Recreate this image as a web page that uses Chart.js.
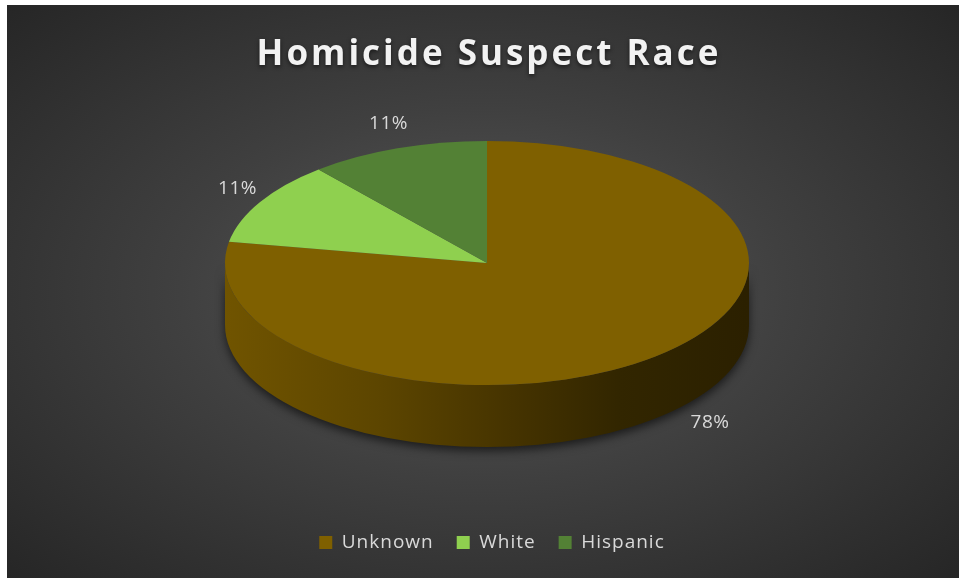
<!DOCTYPE html>
<html>
<head>
<meta charset="utf-8">
<script src="https://cdn.jsdelivr.net/npm/chart.js@4.4.0/dist/chart.umd.min.js"></script>
<style>
    html, body { margin: 0; padding: 0; background: #ffffff; }
    #wrap {
        position: absolute;
        left: 7px;
        top: 5px;
        width: 952px;
        height: 573px;
        background: radial-gradient(ellipse at 50% 50%, #5a5a5a 0%, #404040 45%, #262626 100%);
    }
</style>
</head>
<body>
<div id="wrap"><canvas id="myChart" width="952" height="573"></canvas></div>
<script>
const chartTitle = 'Homicide Suspect Race';
const categories = ['Unknown', 'White', 'Hispanic'];
const suspectCounts = [7, 1, 1];
const sliceColors = ['#7f6000', '#8fd04f', '#538135'];

// look of the tilted pie
const pieCenter = { x: 480, y: 258 };
const pieRadius = 262;
const tilt = 0.466;
const depth = 62;

function sideGradient(ctx, left, right) {
    const g = ctx.createLinearGradient(left, 0, right, 0);
    g.addColorStop(0, '#705400');
    g.addColorStop(0.3, '#5c4500');
    g.addColorStop(0.55, '#453300');
    g.addColorStop(0.75, '#322600');
    g.addColorStop(1, '#2b2000');
    return g;
}

const tiltedPie = {
    id: 'tiltedPie',
    beforeUpdate(chart) {
        // excel text runs a bit wider than Open Sans
        chart.ctx.letterSpacing = '1px';
    },
    beforeDatasetsDraw(chart) {
        const ctx = chart.ctx;
        const arcs = chart.getDatasetMeta(0).data;
        const cx = pieCenter.x, cy = pieCenter.y, R = arcs[0].outerRadius;

        // side wall, only the front half shows
        ctx.save();
        ctx.shadowColor = 'rgba(0,0,0,0.6)';
        ctx.shadowBlur = 10;
        ctx.shadowOffsetY = 4;
        arcs.forEach((arc) => {
            [0, 2 * Math.PI].forEach((shift) => {
                const s = Math.max(arc.startAngle, shift);
                const e = Math.min(arc.endAngle, shift + Math.PI);
                if (e <= s) return;
                ctx.beginPath();
                ctx.ellipse(cx, cy, R, R * tilt, 0, s, e);
                ctx.ellipse(cx, cy + depth, R, R * tilt, 0, e, s, true);
                ctx.closePath();
                ctx.fillStyle = sideGradient(ctx, cx - R, cx + R);
                ctx.fill();
            });
        });
        ctx.restore();

        // squash the top face
        ctx.save();
        ctx.translate(cx, cy);
        ctx.scale(1, tilt);
        ctx.translate(-arcs[0].x, -arcs[0].y);
    },
    afterDatasetsDraw(chart) {
        const ctx = chart.ctx;
        ctx.restore();

        const arcs = chart.getDatasetMeta(0).data;
        const total = suspectCounts.reduce((a, b) => a + b, 0);
        const R = arcs[0].outerRadius;
        ctx.save();
        ctx.letterSpacing = '0.5px';
        ctx.font = '19px "Open Sans"';
        ctx.fillStyle = '#d9d9d9';
        ctx.textAlign = 'center';
        ctx.textBaseline = 'middle';
        arcs.forEach((arc, i) => {
            const mid = (arc.startAngle + arc.endAngle) / 2;
            const c = Math.cos(mid), s = Math.sin(mid);
            let x = pieCenter.x + c * R;
            let y = pieCenter.y + s * R * tilt;
            if (s < 0) {
                // back labels sit just past the rim
                x += 26 * c;
                y += 26 * s;
            } else {
                // front labels go beside the wall
                x += 85 * c;
                y += depth + 5 * s;
            }
            ctx.fillText(Math.round(suspectCounts[i] / total * 100) + '%', x, y);
        });
        ctx.restore();
    },
    afterDraw(chart) {
        const ctx = chart.ctx;
        ctx.save();
        ctx.letterSpacing = '3px';
        ctx.font = 'bold 35px "Open Sans"';
        ctx.fillStyle = '#f2f2f2';
        ctx.textAlign = 'center';
        ctx.textBaseline = 'middle';
        ctx.shadowColor = 'rgba(0,0,0,0.55)';
        ctx.shadowBlur = 4;
        ctx.shadowOffsetY = 2;
        ctx.fillText(chartTitle, pieCenter.x + 2, 50);
        ctx.restore();
    }
};

const ctx = document.getElementById('myChart').getContext('2d');
new Chart(ctx, {
    type: 'pie',
    data: {
        labels: categories,
        datasets: [{
            data: suspectCounts,
            backgroundColor: sliceColors,
            borderWidth: 0,
            radius: pieRadius,
            clip: false
        }]
    },
    options: {
        responsive: false,
        animation: false,
        events: [],
        layout: { padding: { top: 70, bottom: 16, left: 18 } },
        plugins: {
            title: { display: false },
            legend: {
                position: 'bottom',
                labels: {
                    color: '#d9d9d9',
                    font: { family: '"Open Sans"', size: 19 },
                    boxWidth: 13,
                    boxHeight: 13,
                    padding: 23
                }
            },
            tooltip: { enabled: false }
        }
    },
    plugins: [tiltedPie]
});
</script>
</body>
</html>
